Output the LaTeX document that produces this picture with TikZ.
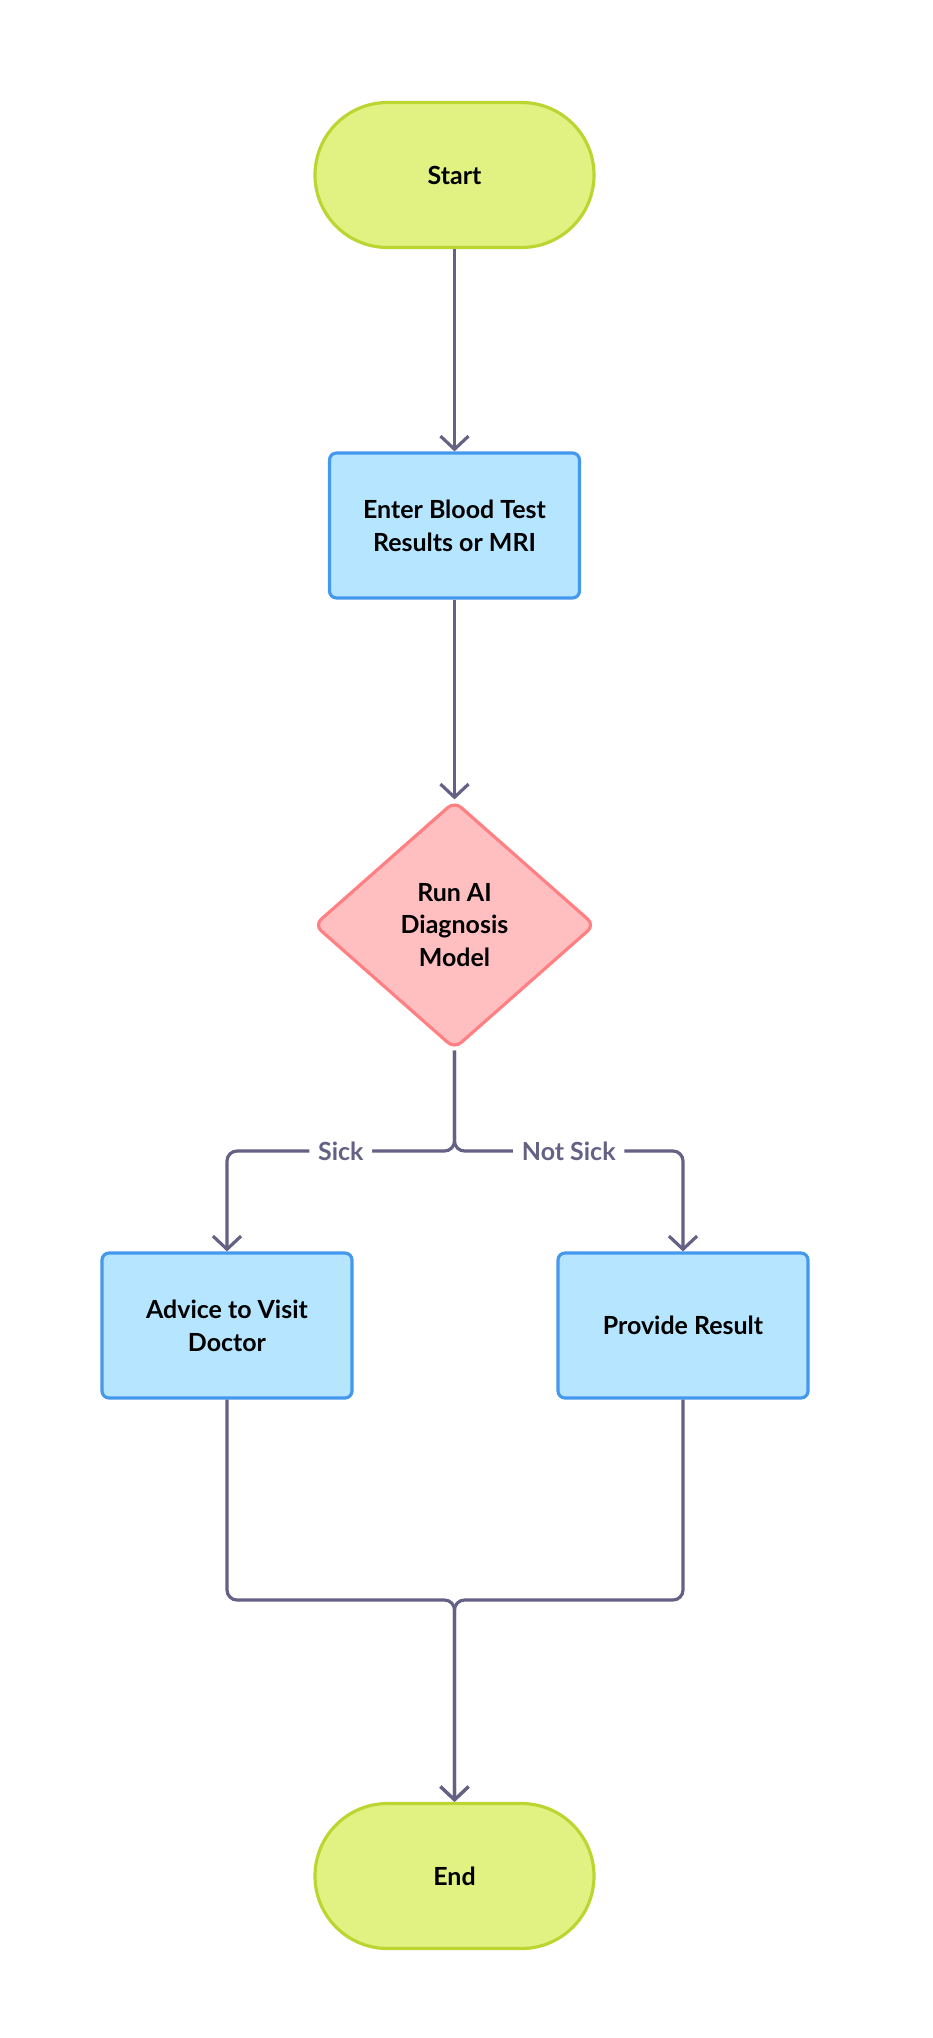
\documentclass[tikz,border=0pt]{standalone}
\usepackage{fontspec}
\setmainfont{Lato}
\usepackage{tikz}
\usetikzlibrary{shapes.geometric,arrows.meta}
\definecolor{termfill}{HTML}{E1F283}
\definecolor{termline}{HTML}{BDD531}
\definecolor{boxfill}{HTML}{B6E5FF}
\definecolor{boxline}{HTML}{4499EE}
\definecolor{decfill}{HTML}{FFBFC1}
\definecolor{decline}{HTML}{FF7F82}
\definecolor{flowgrey}{HTML}{646185}

\tikzset{
  nodetext/.style={font=\fontsize{14.2}{18.7}\selectfont\bfseries, align=center, text=black},
  terminal/.style={nodetext, draw=termline, fill=termfill, line width=1.8pt,
    rectangle, rounded corners=1.45cm, minimum width=5.58cm, minimum height=2.9cm},
  procbox/.style={nodetext, draw=boxline, fill=boxfill, line width=1.8pt,
    rectangle, rounded corners=4pt, minimum width=5cm, minimum height=2.9cm},
  decision/.style={nodetext, draw=decline, fill=decfill, line width=1.8pt,
    diamond, aspect=1.13, rounded corners=5pt, inner sep=0pt,
    minimum width=5.62cm, minimum height=4.96cm},
  flow/.style={draw=flowgrey, line width=1.8pt, rounded corners=0.2cm,
    -{Straight Barb[length=7.5pt,width=16pt]}},
  branchlabel/.style={font=\fontsize{14.2}{18.7}\selectfont\bfseries, text=flowgrey,
    fill=white, inner xsep=5pt, inner ysep=2pt}
}

\begin{document}
\begin{tikzpicture}
\fill[white] (0,0) rectangle (18.64,-40.76);

\node[terminal] (start) at (9.09,-3.50) {Start};
\node[procbox] (enter) at (9.09,-10.51) {Enter Blood Test\\Results or MRI};
\node[decision] (model) at (9.09,-18.50) {Run AI\\Diagnosis\\Model};
\node[procbox] (advice) at (4.54,-26.51) {Advice to Visit\\Doctor};
\node[procbox] (result) at (13.66,-26.51) {Provide Result};
\node[terminal] (end) at (9.09,-37.52) {End};

\coordinate (split) at (9.09,-23.02);
\coordinate (join) at (9.09,-32.00);

\draw[flow] (start) -- (enter);
\draw[flow] (enter) -- (model);
\draw[flow] (model.south) -- (split) -| node[branchlabel, pos=0.25] {Sick} (advice.north);
\draw[flow] (model.south) -- (split) -| node[branchlabel, pos=0.25] {Not Sick} (result.north);
\draw[flow] (advice.south) |- (join) -- (end.north);
\draw[flow] (result.south) |- (join) -- (end.north);
\end{tikzpicture}
\end{document}
